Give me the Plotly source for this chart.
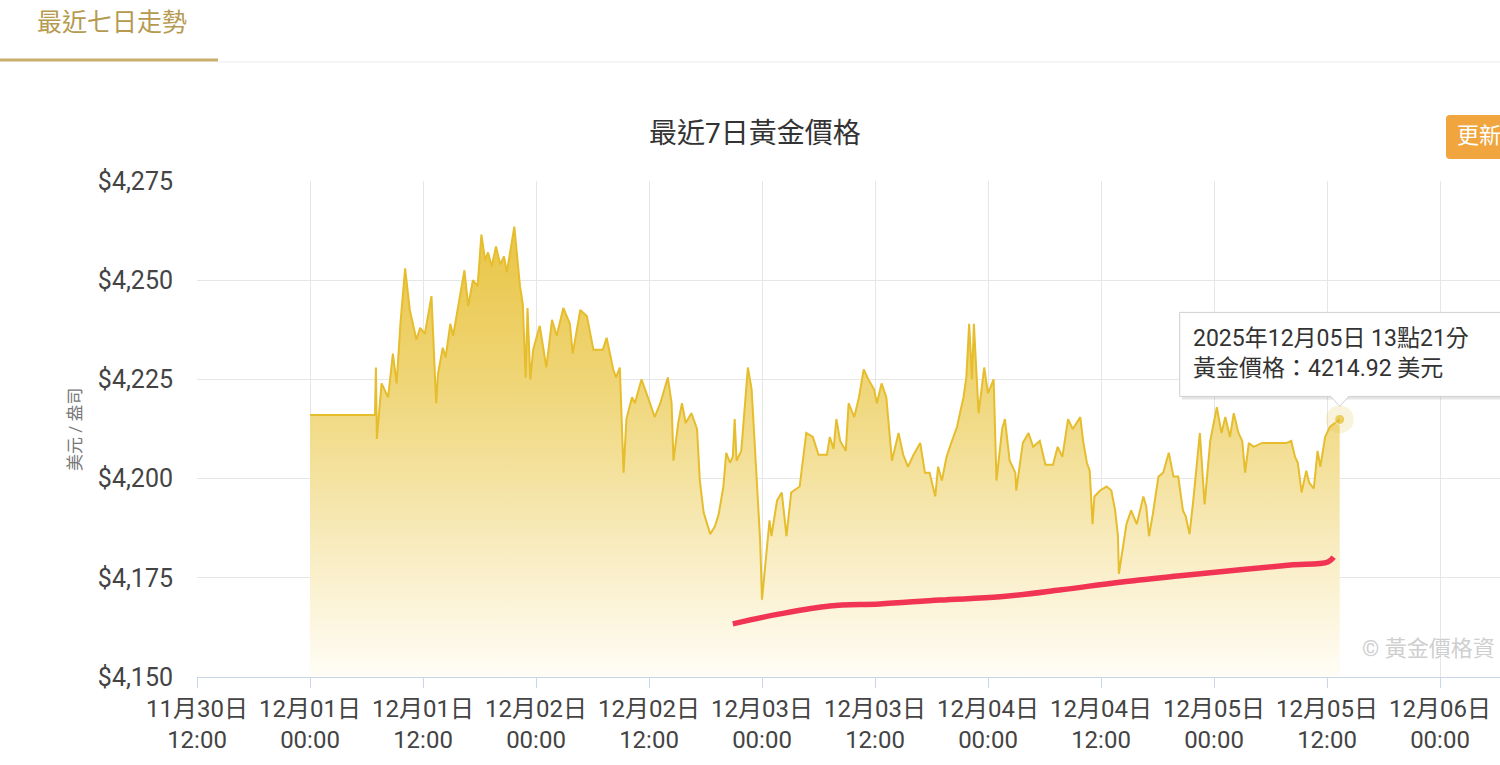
import pandas as pd
import plotly.graph_objects as go

# gold price, hours after 2025-12-01 00:00
price_hours = [
    0.0, 6.9, 7.0, 7.1, 7.6, 8.3, 8.8, 9.2, 9.6, 10.1, 10.6, 11.3, 11.7, 12.2, 12.9, 13.4, 13.6,
    14.1, 14.4, 14.9, 15.2, 15.7, 16.4, 16.8, 17.3, 17.8, 18.2, 18.6, 18.9, 19.3, 19.75, 20.2,
    20.6, 20.9, 21.1, 21.7, 22.3, 22.6, 22.9, 23.1, 23.4, 23.7, 24.4, 25.1, 25.7, 26.2, 26.9,
    27.6, 27.9, 28.7, 29.4, 30.1, 31.1, 31.5, 32.2, 32.5, 32.9, 33.3, 33.6, 34.2, 34.5, 35.2,
    36.1, 36.6, 37.2, 38.0, 38.4, 38.6, 39.1, 39.5, 39.9, 40.5, 41.1, 41.4, 41.8, 42.5, 43.0,
    43.4, 43.9, 44.2, 44.6, 44.9, 45.1, 45.3, 45.8, 46.2, 46.5, 46.9, 47.2, 47.6, 47.8, 48.0,
    48.3, 48.8, 49.0, 49.6, 50.1, 50.6, 51.1, 52.0, 52.7, 53.4, 54.0, 54.9,
    55.2, 55.6, 55.9, 56.3, 56.9, 57.2, 57.8, 58.3, 58.8, 59.3, 59.9, 60.2, 60.7, 61.2, 61.8,
    62.5, 63.0, 63.5, 64.1, 64.8, 65.3, 65.8, 66.4, 66.7, 67.1, 67.6, 68.1, 68.7, 69.4, 69.7,
    70.0, 70.3, 70.5, 71.0, 71.6, 72.0, 72.6, 72.9, 73.5, 73.8, 74.3, 74.9, 75.0, 75.7, 76.3,
    76.8, 77.5, 78.1, 78.9, 79.4, 79.9, 80.5, 81.0, 81.8, 82.1,
    82.5, 82.8, 83.1, 83.3, 83.9, 84.6, 85.1, 85.5, 85.8, 85.9, 86.4, 86.7, 87.2, 87.8, 88.5,
    88.8, 89.1, 89.5, 90.1, 90.6, 91.2, 91.7, 92.2, 92.7, 93.0, 93.4, 93.8, 94.5, 95.0, 95.6,
    96.3, 96.8, 97.2, 97.7, 98.1, 98.6, 99.0, 99.3, 99.7, 100.2, 101.1, 103.7, 104.2, 104.6,
    104.9, 105.3, 105.8, 106.1, 106.6, 107.0, 107.3, 107.8, 108.3, 109.2, 109.35,
]
prices = [
    4216, 4216, 4228, 4210, 4224, 4220.5, 4231.5, 4224, 4239, 4253, 4242.5, 4235, 4238, 4236.5,
    4246, 4219, 4226.5, 4233, 4230.5, 4239, 4236, 4242.5, 4252.5, 4243.5, 4250, 4248.5, 4261.5,
    4255, 4257, 4253.5, 4258.5, 4254, 4256, 4252, 4255, 4263.5, 4248.5, 4244, 4225.5, 4243,
    4225, 4232.5, 4238.5, 4228, 4240, 4236, 4243,
    4239, 4231.5, 4242.5, 4241, 4232.5, 4232.5, 4235.5, 4227.5, 4225.5, 4228, 4201.5, 4215,
    4220.5, 4219, 4225, 4219, 4215.5, 4219, 4225.5, 4219, 4204.5, 4214, 4219, 4214, 4216.5,
    4212.5, 4199.5, 4191.5, 4186, 4188, 4191, 4198, 4206.5, 4204, 4205.5, 4215, 4204.5, 4207,
    4220.5, 4228, 4222.5, 4209.5, 4191.5, 4184.5, 4169.5, 4177, 4189.5, 4185.5, 4194.5, 4196.5,
    4185.5, 4196.5, 4198, 4211.5, 4210.5, 4206, 4206,
    4210.5, 4207.5, 4215, 4209.5, 4207, 4219, 4215.5, 4220.5, 4227.5, 4225, 4222.5, 4219, 4224,
    4220.5, 4204.5, 4211.5, 4206, 4203, 4206, 4209, 4201.5, 4201.5, 4195.5, 4203, 4199.5,
    4205.5, 4209, 4213, 4220.5, 4225.5, 4239, 4225, 4239, 4216.5, 4228, 4221.5, 4225, 4199.5,
    4212.5, 4215, 4204.5, 4201.5, 4197, 4209, 4211.5, 4208, 4209.5, 4203.5, 4203.5, 4208,
    4205.5, 4215, 4212.5, 4215.5, 4209.5,
    4204, 4202, 4188.5, 4195.5, 4197, 4198, 4197, 4192, 4185.5, 4176, 4183.5, 4188.5, 4192,
    4188.5, 4195.5, 4193, 4185.5, 4191, 4200.5, 4201.5, 4206.5, 4200.5, 4200.5, 4192, 4190.5,
    4186, 4194.5, 4211.5, 4193.5, 4209.5, 4218, 4211.5, 4215.5, 4210.5, 4216.5, 4211.5, 4209.5,
    4201.5, 4209, 4208, 4209, 4209, 4209.5, 4205.5, 4204, 4196.5, 4202, 4199, 4197.5, 4207,
    4203, 4210.5, 4213, 4214.5, 4214.92,
]

# hand-drawn red trend stroke
red_hours = [44.9, 49.9, 55.2, 60.5, 66.9, 73.3, 79.6, 86.0, 92.4, 98.8, 104.1, 108.1, 108.7]
red_values = [4163.4, 4165.9, 4167.9, 4168.4, 4169.4, 4170.2, 4171.9, 4173.9, 4175.5, 4177.0,
              4178.2, 4179.0, 4180.2]

y_ticks = [4150, 4175, 4200, 4225, 4250, 4275]
y_tick_labels = ["$4,150", "$4,175", "$4,200", "$4,225", "$4,250", "$4,275"]
x_tick_times = ["2025-11-30 12:00", "2025-12-01 00:00", "2025-12-01 12:00", "2025-12-02 00:00",
                "2025-12-02 12:00", "2025-12-03 00:00", "2025-12-03 12:00", "2025-12-04 00:00",
                "2025-12-04 12:00", "2025-12-05 00:00", "2025-12-05 12:00", "2025-12-06 00:00"]
x_tick_labels = ["11月30日<br>12:00", "12月01日<br>00:00", "12月01日<br>12:00", "12月02日<br>00:00",
                 "12月02日<br>12:00", "12月03日<br>00:00", "12月03日<br>12:00", "12月04日<br>00:00",
                 "12月04日<br>12:00", "12月05日<br>00:00", "12月05日<br>12:00", "12月06日<br>00:00"]

base = pd.Timestamp("2025-12-01 00:00")
times = [base + pd.Timedelta(hours=h) for h in price_hours]
red_times = [base + pd.Timedelta(hours=h) for h in red_hours]
last_t, last_p = times[-1], prices[-1]

FONT = "Roboto, 'Noto Sans CJK TC', sans-serif"
GOLD = "rgb(230,189,45)"

# page geometry (px) -> paper
L, R, T, B, W, H = 197, 0, 181, 88, 1500, 765
pw, ph = W - L - R, H - T - B
def px(x):
    return (x - L) / pw
def py(y):
    return (H - B - y) / ph

fig = go.Figure()
fig.add_trace(go.Scatter(
    x=times, y=prices, mode="lines", line=dict(color=GOLD, width=2),
    fill="tozeroy",
    fillgradient=dict(type="vertical", start=4150, stop=4275,
                      colorscale=[[0, "rgb(255,253,246)"], [0.2, "rgb(250,240,205)"],
                                  [0.4, "rgb(244,226,160)"], [0.6, "rgb(239,213,118)"],
                                  [0.8, "rgb(235,202,85)"], [1, "rgb(232,195,65)"]]),
    hoverinfo="skip", showlegend=False))
fig.add_trace(go.Scatter(
    x=red_times, y=red_values, mode="lines", line=dict(color="rgb(242,52,84)", width=5.5, shape="spline"),
    hoverinfo="skip", showlegend=False))
fig.add_trace(go.Scatter(
    x=[last_t, last_t], y=[last_p, last_p], mode="markers",
    marker=dict(size=[28, 10], color=["rgba(232,196,70,0.28)", GOLD],
                line=dict(width=[0, 1], color="rgba(255,255,255,0.8)")),
    hoverinfo="skip", showlegend=False))

tip_path = "M -160,23 L -9,23 L 0,13 L 9,23 L 220,23 L 220,107 L -160,107 Z"
shapes = [
    dict(type="path", xref="x", yref="y", xsizemode="pixel", ysizemode="pixel",
         xanchor=last_t, yanchor=last_p, path="M -158,20 L 222,20 L 222,104 L -158,104 Z",
         fillcolor="rgba(0,0,0,0.10)", line=dict(width=0)),
    dict(type="path", xref="x", yref="y", xsizemode="pixel", ysizemode="pixel",
         xanchor=last_t, yanchor=last_p, path=tip_path,
         fillcolor="white", line=dict(color="#cfcfcf", width=1)),
    dict(type="path", xref="paper", yref="paper", xsizemode="pixel", ysizemode="pixel",
         xanchor=px(1446), yanchor=py(137),
         path="M 4,22 L 70,22 L 70,-22 L 4,-22 Q 0,-22 0,-18 L 0,18 Q 0,22 4,22 Z",
         fillcolor="#f0a53e", line=dict(width=0)),
    dict(type="line", xref="paper", yref="paper", x0=px(0), x1=px(218), y0=py(60), y1=py(60),
         line=dict(color="#c9ae6c", width=3)),
    dict(type="line", xref="paper", yref="paper", x0=px(218), x1=px(1500), y0=py(62), y1=py(62),
         line=dict(color="#ececec", width=1)),
]

annotations = [
    dict(x=last_t, y=last_p, xref="x", yref="y", xanchor="left", yanchor="middle",
         xshift=-149, yshift=66, showarrow=False, align="left",
         text="2025年12月05日 13點21分<br>黃金價格：4214.92 美元",
         font=dict(family=FONT, size=23, color="#333")),
    dict(x=px(35), y=py(22), xref="paper", yref="paper", xanchor="left", yanchor="middle",
         text="最近七日走勢", showarrow=False, font=dict(family=FONT, size=25, color="#b59a50")),
    dict(x=px(755), y=py(133), xref="paper", yref="paper", xanchor="center", yanchor="middle",
         text="最近7日黃金價格", showarrow=False, font=dict(family=FONT, size=28, color="#333")),
    dict(x=px(1455), y=py(136), xref="paper", yref="paper", xanchor="left", yanchor="middle",
         text="更新", showarrow=False, font=dict(family=FONT, size=22, color="white")),
    dict(x=px(75), y=py(430), xref="paper", yref="paper", xanchor="center", yanchor="middle",
         text="美元 / 盎司", textangle=-90, showarrow=False,
         font=dict(family=FONT, size=17, color="#777")),
    dict(x=px(1360), y=py(648), xref="paper", yref="paper", xanchor="left", yanchor="middle",
         text="© 黃金價格資", showarrow=False, font=dict(family=FONT, size=22, color="#cfcfcf")),
]

x_start = pd.Timestamp("2025-11-30 12:00")
x_end = x_start + pd.Timedelta(hours=12 * pw / 113)

fig.update_layout(
    width=W, height=H, margin=dict(l=L, r=R, t=T, b=B),
    paper_bgcolor="white", plot_bgcolor="white",
    shapes=shapes, annotations=annotations,
    xaxis=dict(type="date", range=[x_start, x_end], tickvals=x_tick_times, ticktext=x_tick_labels,
               showgrid=True, gridcolor="#e6e6e6", gridwidth=1, showline=True, linecolor="#ccd6eb",
               ticks="outside", ticklen=10, tickcolor="#ccd6eb", automargin=False,
               tickfont=dict(family=FONT, size=24, color="#444"), zeroline=False),
    yaxis=dict(range=[4150, 4275], tickvals=y_ticks, ticktext=y_tick_labels,
               showgrid=True, gridcolor="#e6e6e6", gridwidth=1, zeroline=False, automargin=False,
               ticklabelstandoff=23, tickfont=dict(family=FONT, size=25, color="#444")),
)

fig.write_html("out.html", config={"displayModeBar": False},
               post_script="document.body.style.margin='0';")
